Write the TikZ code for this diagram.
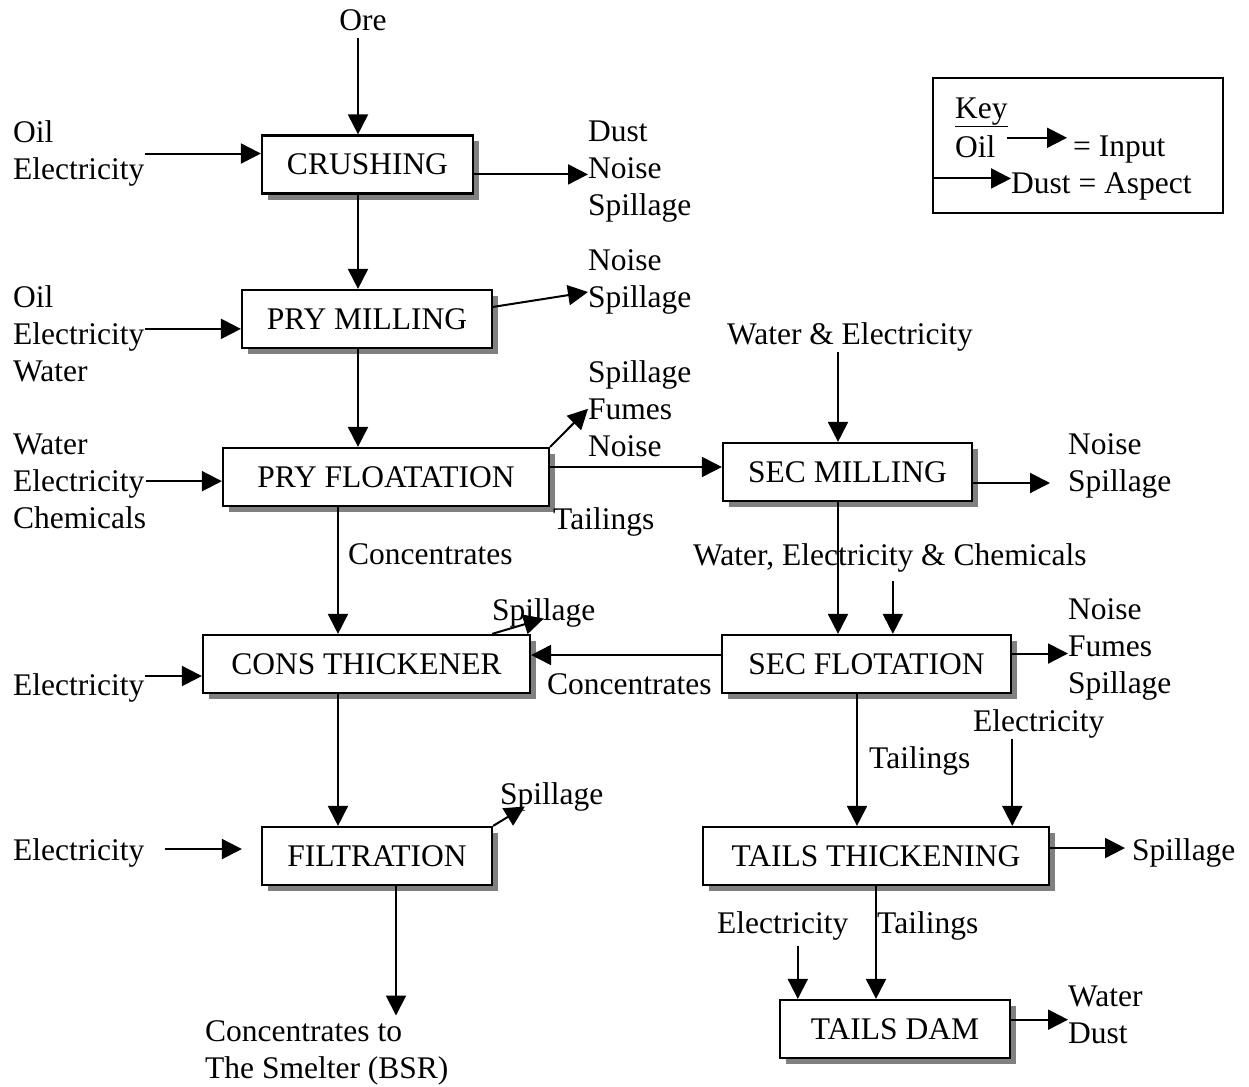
\documentclass[tikz,border=0pt]{standalone}
\usepackage{fontspec}
\setmainfont{Liberation Serif}
\usetikzlibrary{arrows.meta,shadows,calc}
\tikzset{
stage/.style={draw, line width=2.2pt, fill=white, inner sep=0pt, minimum height=58pt,
	drop shadow={shadow xshift=6pt, shadow yshift=-6pt, fill=black!50, opacity=1}},
lbl/.style={inner sep=0pt, align=left, anchor=north west},
flow/.style={line width=2pt, -{Triangle[length=20pt,width=20pt]}}
}

\begin{document}
\begin{tikzpicture}[x=1pt, y=-1pt, font=\fontsize{31.5}{37}\selectfont]
	\useasboundingbox (0,0) rectangle (1249,1086);
	\node[stage, minimum width=211pt] (crush) at (367.5,164.5) {CRUSHING};
	\node[stage, minimum width=250pt] (pmill) at (367,319) {PRY MILLING};
	\node[stage, minimum width=326pt] (pflo) at (386,477) {PRY FLOATATION};
	\node[stage, minimum width=249pt] (smill) at (847.5,472) {SEC MILLING};
	\node[stage, minimum width=327pt] (cons) at (366.5,664) {CONS THICKENER};
	\node[stage, minimum width=289pt] (sflo) at (866.5,664) {SEC FLOTATION};
	\node[stage, minimum width=230pt] (filt) at (377,856) {FILTRATION};
	\node[stage, minimum width=346pt] (tthick) at (876,856) {TAILS THICKENING};
	\node[stage, minimum width=230pt] (tdam) at (895,1029) {TAILS DAM};

	\node[lbl, anchor=north] (ore) at (363,9.5) {Ore};
	\node[lbl] (oilA) at (13,120.5) {Oil\\Electricity};
	\node[lbl] (dustA) at (588,120.5) {Dust\\Noise\\Spillage};
	\node[lbl] (oilB) at (13,285.5) {Oil\\Electricity\\Water};
	\node[lbl] (noiseB) at (588,249.5) {Noise\\Spillage};
	\node[lbl, anchor=north] (waterel) at (850,322.5) {Water \& Electricity};
	\node[lbl] (spillC) at (588,360.5) {Spillage\\Fumes\\Noise};
	\node[lbl] (waterC) at (13,433.5) {Water\\Electricity\\Chemicals};
	\node[lbl] (noiseD) at (1068,433.5) {Noise\\Spillage};
	\node[lbl] (tailA) at (553,507.5) {Tailings};
	\node[lbl] (concA) at (348,543.5) {Concentrates};
	\node[lbl] (wec) at (693,543.5) {Water, Electricity \& Chemicals};
	\node[lbl] (spillE) at (492,598.5) {Spillage};
	\node[lbl] (noiseF) at (1068,598.5) {Noise\\Fumes\\Spillage};
	\node[lbl] (elecE) at (13,673.5) {Electricity};
	\node[lbl] (concB) at (547,673.5) {Concentrates};
	\node[lbl] (elecG) at (973,709.5) {Electricity};
	\node[lbl] (tailB) at (869,746.5) {Tailings};
	\node[lbl] (spillH) at (500,782.5) {Spillage};
	\node[lbl] (elecH) at (13,838.5) {Electricity};
	\node[lbl] (spillI) at (1132,838.5) {Spillage};
	\node[lbl] (elecJ) at (717,911.5) {Electricity};
	\node[lbl] (tailC) at (877,911.5) {Tailings};
	\node[lbl] (smelter) at (205,1020.5) {Concentrates to\\The Smelter (BSR)};
	\node[lbl] (waterK) at (1068,985.5) {Water\\Dust};

	\node[draw, line width=2pt, inner sep=0pt, minimum width=290pt, minimum height=135pt] (key) at (1078,145.5) {};
	\node[lbl] (keyhd) at (955,97.5) {\underline{Key}};
	\node[lbl] (keyoil) at (955,135.5) {Oil};
	\node[lbl] (keyin) at (1073,135.5) {= Input};
	\node[lbl] (keydust) at (1011,172.5) {Dust = Aspect};

	\draw[flow] ($(ore.south)+(-5,7)$) -- ($(ore.south |- crush.north)+(-5,0)$);
	\draw[flow] (oilA.east) -- (oilA.east -| crush.west);
	\draw[flow] ($(crush.east |- dustA.west)+(0,3)$) -- ($(dustA.west)+(0,3)$);
	\draw[flow] ($(crush.south)+(-9.5,0)$) -- ($(crush.south |- pmill.north)+(-9.5,0)$);
	\draw[flow] ($(oilB.east)+(0,-5)$) -- ($(oilB.east -| pmill.west)+(0,-5)$);
	\draw[flow] ($(pmill.north east)+(0,18)$) -- ($(noiseB.west)+(0,10)$);
	\draw[flow] ($(pmill.south)+(-9,0)$) -- ($(pmill.south |- pflo.north)+(-9,0)$);
	\draw[flow] (waterC.east) -- (waterC.east -| pflo.west);
	\draw[flow] (pflo.north east) -- (spillC.west);
	\draw[flow] ($(pflo.east |- smill.west)+(0,-5)$) -- ($(smill.west)+(0,-5)$);
	\draw[flow] ($(waterel.south)+(-12,0)$) -- ($(waterel.south |- smill.north)+(-12,0)$);
	\draw[flow] ($(smill.east)+(0,11)$) -- ($(smill.east -| noiseD.west)+(-18,11)$);
	\draw[flow] ($(pflo.south)+(-48,0)$) -- ($(pflo.south |- cons.north)+(-48,0)$);
	\draw[flow] ($(smill.south)+(-9.5,0)$) -- ($(smill.south |- sflo.north)+(-9.5,0)$);
	\draw[flow] ($(wec.south)+(3,8)$) -- ($(wec.south |- sflo.north)+(3,0)$);
	\draw[flow] ($(cons.north east)+(-39,0)$) -- ($(spillE.south)+(0,-9)$);
	\draw[flow] ($(elecE.east)+(0,-12)$) -- ($(elecE.east -| cons.west)+(0,-12)$);
	\draw[flow] ($(sflo.west)+(0,-9)$) -- ($(cons.east)+(0,-9)$);
	\draw[flow] ($(sflo.east |- noiseF.west)+(0,4)$) -- ($(noiseF.west)+(0,4)$);
	\draw[flow] ($(sflo.south)+(-9.5,0)$) -- ($(sflo.south |- tthick.north)+(-9.5,0)$);
	\draw[flow] ($(elecG.south)+(-26.5,0)$) -- ($(elecG.south |- tthick.north)+(-26.5,0)$);
	\draw[flow] ($(cons.south)+(-28.5,0)$) -- ($(cons.south |- filt.north)+(-28.5,0)$);
	\draw[flow] (filt.north east) -- ($(spillH.south)+(-27,-5)$);
	\draw[flow] ($(elecH.east)+(20,-4)$) -- ($(elecH.east -| filt.west)+(-19,-4)$);
	\draw[flow] ($(filt.south)+(19,0)$) -- ($(filt.south |- smelter.north)+(19,-5)$);
	\draw[flow] ($(tthick.east |- spillI.west)+(0,-5)$) -- ($(spillI.west)+(-7,-5)$);
	\draw[flow] ($(elecJ.south)+(15,5)$) -- ($(elecJ.south |- tdam.north)+(15,0)$);
	\draw[flow] (tthick.south) -- (tthick.south |- tdam.north);
	\draw[flow] ($(tdam.east |- waterK.west)+(0,5)$) -- ($(waterK.west)+(0,5)$);
	\draw[flow] ($(keyoil.east)+(11,-9)$) -- ($(keyoil.east -| keyin.west)+(-6,-9)$);
	\draw[flow] ($(key.west |- keydust.west)+(0,-8)$) -- ($(keydust.west)+(0,-8)$);
\end{tikzpicture}
\end{document}
